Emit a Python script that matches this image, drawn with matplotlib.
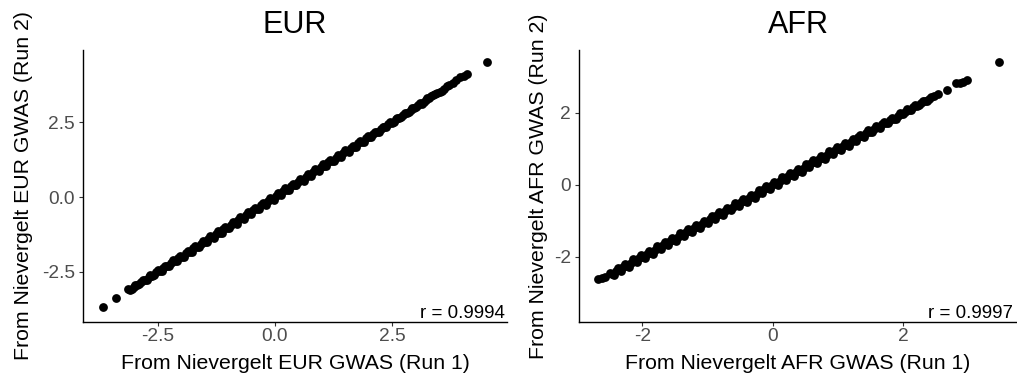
import matplotlib
matplotlib.use("Agg")
import matplotlib.pyplot as plt

plt.rcParams["font.family"] = ["Liberation Sans", "DejaVu Sans"]

# EUR run 1 vs run 2 effect estimates
eur_x = [-3.67, -3.40, -3.14, -3.06, -2.98, -2.90, -2.82, -2.74, -2.66, -2.58,
         -2.50, -2.42, -2.34, -2.26, -2.18, -2.10, -2.02, -1.94, -1.86, -1.78,
         -1.70, -1.62, -1.54, -1.46, -1.38, -1.30, -1.22, -1.14, -1.06, -0.98,
         -0.90, -0.82, -0.74, -0.66, -0.58, -0.50, -0.42, -0.34, -0.26, -0.18,
         -0.10, -0.02, 0.06, 0.14, 0.22, 0.30, 0.38, 0.46, 0.54, 0.62,
         0.70, 0.78, 0.86, 0.94, 1.02, 1.10, 1.18, 1.26, 1.34, 1.42,
         1.50, 1.58, 1.66, 1.74, 1.82, 1.90, 1.98, 2.06, 2.14, 2.22,
         2.30, 2.38, 2.46, 2.54, 2.62, 2.70, 2.78, 2.86, 2.94, 3.02,
         3.10, 3.18, 3.26, 3.34, 3.42, 3.52, 3.62, 3.72, 3.80, 3.88,
         3.96, 4.04, 4.10, 4.53]
eur_y = [-3.68, -3.38, -3.09, -3.06, -2.95, -2.91, -2.78, -2.76, -2.62, -2.60,
         -2.45, -2.46, -2.29, -2.30, -2.12, -2.15, -1.96, -1.99, -1.80, -1.84,
         -1.63, -1.68, -1.47, -1.52, -1.31, -1.37, -1.15, -1.21, -0.99, -1.05,
         -0.83, -0.89, -0.67, -0.73, -0.51, -0.57, -0.35, -0.41, -0.19, -0.25,
         -0.03, -0.09, 0.13, 0.07, 0.29, 0.23, 0.45, 0.39, 0.61, 0.55,
         0.77, 0.71, 0.93, 0.87, 1.09, 1.03, 1.25, 1.19, 1.41, 1.35,
         1.57, 1.51, 1.72, 1.68, 1.88, 1.85, 2.04, 2.01, 2.19, 2.18,
         2.35, 2.34, 2.50, 2.51, 2.66, 2.67, 2.82, 2.84, 2.98, 3.01,
         3.14, 3.17, 3.30, 3.38, 3.45, 3.50, 3.63, 3.76, 3.80, 3.90,
         4.00, 4.06, 4.12, 4.52]
# more EUR points from the dense middle of the band
eur_x2 = [-3.10, -3.02, -2.94, -2.86, -2.78, -2.70, -2.62, -2.54, -2.46, -2.38,
          -2.30, -2.22, -2.14, -2.06, -1.98, -1.90, -1.82, -1.74, -1.66, -1.58,
          -1.50, -1.42, -1.34, -1.26, -1.18, -1.10, -1.02, -0.94, -0.86, -0.78,
          -0.70, -0.62, -0.54, -0.46, -0.38, -0.30, -0.22, -0.14, -0.06, 0.02,
          0.10, 0.18, 0.26, 0.34, 0.42, 0.50, 0.58, 0.66, 0.74, 0.82,
          0.90, 0.98, 1.06, 1.14, 1.22, 1.30, 1.38, 1.46, 1.54, 1.62,
          1.70, 1.78, 1.86, 1.94, 2.02, 2.10, 2.18, 2.26, 2.34, 2.42,
          2.50, 2.58, 2.66, 2.74, 2.82, 2.90, 2.98, 3.06, 3.14, 3.22,
          3.30, 3.38, 3.47, 3.57, 3.67]
eur_y2 = [-3.11, -3.00, -2.94, -2.85, -2.79, -2.68, -2.63, -2.52, -2.47, -2.36,
          -2.31, -2.20, -2.15, -2.04, -1.99, -1.88, -1.83, -1.72, -1.67, -1.56,
          -1.51, -1.40, -1.35, -1.24, -1.19, -1.08, -1.03, -0.92, -0.87, -0.76,
          -0.71, -0.60, -0.55, -0.44, -0.39, -0.28, -0.23, -0.12, -0.07, 0.04,
          0.09, 0.20, 0.25, 0.36, 0.41, 0.52, 0.57, 0.68, 0.73, 0.84,
          0.89, 1.00, 1.05, 1.16, 1.21, 1.32, 1.37, 1.48, 1.53, 1.64,
          1.69, 1.80, 1.85, 1.96, 2.01, 2.12, 2.17, 2.28, 2.33, 2.44,
          2.49, 2.60, 2.65, 2.76, 2.81, 2.92, 2.97, 3.08, 3.13, 3.25,
          3.33, 3.42, 3.48, 3.56, 3.70]

# AFR run 1 vs run 2 effect estimates
afr_x = [-2.68, -2.57, -2.50, -2.44, -2.38, -2.32, -2.26, -2.20, -2.14, -2.08,
         -2.02, -1.96, -1.90, -1.84, -1.78, -1.72, -1.66, -1.60, -1.54, -1.48,
         -1.42, -1.36, -1.30, -1.24, -1.18, -1.12, -1.06, -1.00, -0.94, -0.88,
         -0.82, -0.76, -0.70, -0.64, -0.58, -0.52, -0.46, -0.40, -0.34, -0.28,
         -0.22, -0.16, -0.10, -0.04, 0.02, 0.08, 0.14, 0.20, 0.26, 0.32,
         0.38, 0.44, 0.50, 0.56, 0.62, 0.68, 0.74, 0.80, 0.86, 0.92,
         0.98, 1.04, 1.10, 1.16, 1.22, 1.28, 1.34, 1.40, 1.46, 1.52,
         1.58, 1.64, 1.70, 1.76, 1.82, 1.88, 1.94, 2.00, 2.06, 2.12,
         2.18, 2.24, 2.30, 2.36, 2.42, 2.53, 2.66, 2.80, 2.86, 2.92,
         2.97, 3.46]
afr_y = [-2.61, -2.56, -2.45, -2.50, -2.31, -2.38, -2.20, -2.27, -2.07, -2.15,
         -1.95, -2.03, -1.83, -1.91, -1.71, -1.79, -1.59, -1.67, -1.47, -1.55,
         -1.35, -1.43, -1.23, -1.31, -1.11, -1.19, -0.99, -1.07, -0.87, -0.95,
         -0.75, -0.83, -0.63, -0.71, -0.51, -0.59, -0.39, -0.47, -0.27, -0.35,
         -0.15, -0.23, -0.03, -0.11, 0.09, 0.01, 0.21, 0.13, 0.33, 0.25,
         0.45, 0.37, 0.57, 0.49, 0.69, 0.61, 0.81, 0.73, 0.93, 0.85,
         1.05, 0.97, 1.17, 1.09, 1.29, 1.21, 1.40, 1.34, 1.52, 1.46,
         1.64, 1.58, 1.75, 1.71, 1.87, 1.83, 1.99, 1.96, 2.10, 2.09,
         2.22, 2.21, 2.34, 2.33, 2.45, 2.53, 2.64, 2.82, 2.83, 2.85,
         2.92, 3.42]
# more AFR points from the dense middle of the band
afr_x2 = [-2.62, -2.47, -2.41, -2.35, -2.29, -2.23, -2.17, -2.11, -2.05, -1.99,
          -1.93, -1.87, -1.81, -1.75, -1.69, -1.63, -1.57, -1.51, -1.45, -1.39,
          -1.33, -1.27, -1.21, -1.15, -1.09, -1.03, -0.97, -0.91, -0.85, -0.79,
          -0.73, -0.67, -0.61, -0.55, -0.49, -0.43, -0.37, -0.31, -0.25, -0.19,
          -0.13, -0.07, -0.01, 0.05, 0.11, 0.17, 0.23, 0.29, 0.35, 0.41,
          0.47, 0.53, 0.59, 0.65, 0.71, 0.77, 0.83, 0.89, 0.95, 1.01,
          1.07, 1.13, 1.19, 1.25, 1.31, 1.37, 1.43, 1.49, 1.55, 1.61,
          1.67, 1.73, 1.79, 1.85, 1.91, 1.97, 2.03, 2.09, 2.15, 2.21,
          2.27, 2.33, 2.39, 2.47]
afr_y2 = [-2.60, -2.48, -2.40, -2.36, -2.28, -2.24, -2.16, -2.12, -2.04, -2.00,
          -1.92, -1.88, -1.80, -1.76, -1.68, -1.64, -1.56, -1.52, -1.44, -1.40,
          -1.32, -1.28, -1.20, -1.16, -1.08, -1.04, -0.96, -0.92, -0.84, -0.80,
          -0.72, -0.68, -0.60, -0.56, -0.48, -0.44, -0.36, -0.32, -0.24, -0.20,
          -0.12, -0.08, 0.00, 0.04, 0.12, 0.16, 0.24, 0.28, 0.36, 0.40,
          0.48, 0.52, 0.60, 0.64, 0.72, 0.76, 0.84, 0.88, 0.96, 1.00,
          1.08, 1.12, 1.20, 1.24, 1.32, 1.36, 1.44, 1.48, 1.56, 1.60,
          1.68, 1.72, 1.80, 1.84, 1.92, 1.96, 2.04, 2.08, 2.16, 2.20,
          2.28, 2.32, 2.40, 2.47]

panels = ["EUR", "AFR"]
r_labels = ["r = 0.9994", "r = 0.9997"]
eur_ticks = [-2.5, 0.0, 2.5]
eur_ticklabels = ["-2.5", "0.0", "2.5"]
afr_ticks = [-2, 0, 2]
afr_ticklabels = ["-2", "0", "2"]

fig = plt.figure(figsize=(10.17, 3.79), dpi=100)
W, H = 1017, 379
ax1 = fig.add_axes([83 / W, 57 / H, 424 / W, 272 / H])
ax2 = fig.add_axes([579 / W, 57 / H, 438 / W, 272 / H])

setups = [
    (ax1, eur_x + eur_x2, eur_y + eur_y2, eur_ticks, eur_ticklabels,
     (-4.10, 4.96), (-4.18, 4.92), (4.91, -4.05), -0.1415),
    (ax2, afr_x + afr_x2, afr_y + afr_y2, afr_ticks, afr_ticklabels,
     (-2.97, 3.74), (-3.81, 3.75), (3.68, -3.69), -0.0936),
]

for i, (ax, xs, ys, ticks, tlabels, xlim, ylim, rpos, ylab_x) in enumerate(setups):
    name = panels[i]
    ax.scatter(xs, ys, s=40, color="black", linewidths=0, zorder=3)
    ax.set_xlim(*xlim)
    ax.set_ylim(*ylim)
    ax.set_xticks(ticks)
    ax.set_xticklabels(tlabels)
    ax.set_yticks(ticks)
    ax.set_yticklabels(tlabels)
    for side in ["top", "right"]:
        ax.spines[side].set_visible(False)
    for side in ["left", "bottom"]:
        ax.spines[side].set_linewidth(1.0)
        ax.spines[side].set_color("black")
    ax.tick_params(axis="both", length=2.75, width=0.8, color="#333333",
                   labelcolor="#4D4D4D", labelsize=13.8)
    ax.tick_params(axis="x", pad=1.5)
    ax.tick_params(axis="y", pad=3.0)
    ax.set_title(name, fontsize=22, pad=12)
    ax.set_xlabel(f"From Nievergelt {name} GWAS (Run 1)", fontsize=15.3)
    ax.xaxis.set_label_coords(0.5, -0.173)
    ax.xaxis.label.set_va("baseline")
    ax.set_ylabel(f"From Nievergelt {name} GWAS (Run 2)", fontsize=15.3)
    ax.yaxis.set_label_coords(ylab_x, 0.5)
    ax.yaxis.label.set_va("center")
    ax.text(rpos[0], rpos[1], r_labels[i], ha="right", va="baseline",
            fontsize=13.5, color="black")

plt.savefig("out.png", dpi=100)
